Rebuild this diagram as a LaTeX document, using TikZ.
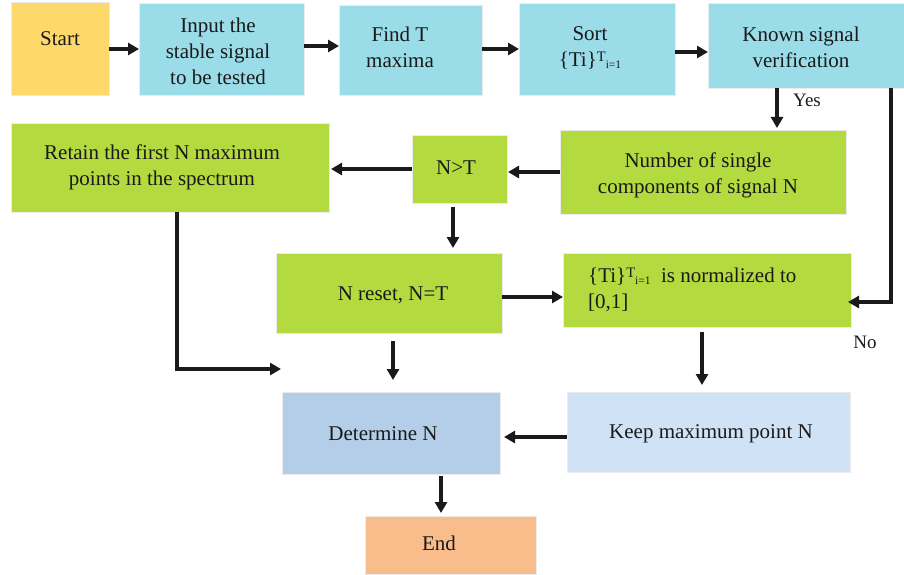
\documentclass[tikz,border=0pt]{standalone}
\usepackage{fontspec}
\setmainfont{Liberation Serif}
\usetikzlibrary{arrows.meta}
\definecolor{cyel}{HTML}{FDD96B}
\definecolor{cblue}{HTML}{9ADCE8}
\definecolor{cgreen}{HTML}{B3DA3F}
\definecolor{cdet}{HTML}{B4CEEA}
\definecolor{ckeep}{HTML}{D0E2F5}
\definecolor{cend}{HTML}{F9BC8B}
\definecolor{cline}{HTML}{1A1A1A}
\newcommand{\TiSet}{\{Ti\}\raisebox{5pt}{\fontsize{14.5}{14.5}\selectfont T}\raisebox{-2pt}{\fontsize{11.5}{11.5}\selectfont i=1}}
\begin{document}
\begin{tikzpicture}[x=1pt,y=-1pt,
  box/.style={draw=white!92!black,line width=0.6pt,inner sep=0pt,outer sep=0pt},
  txt/.style={font=\fontsize{21}{26}\selectfont,align=center,inner sep=0pt,text=cline},
  arr/.style={draw=cline,line width=3.2pt,-{Triangle[length=11pt,width=12pt]}}]
\useasboundingbox (0,0) rectangle (904,575);
% boxes
\node[box,fill=cyel,minimum width=98pt,minimum height=93pt] (start) at (60,48.5) {};
\node[box,fill=cblue,minimum width=165pt,minimum height=92pt] (input) at (221.5,49) {};
\node[box,fill=cblue,minimum width=143pt,minimum height=90pt] (find) at (410.5,50) {};
\node[box,fill=cblue,minimum width=156pt,minimum height=92pt] (sort) at (597,49) {};
\node[box,fill=cblue,minimum width=196pt,minimum height=85pt] (known) at (806,45.5) {};
\node[box,fill=cgreen,minimum width=318pt,minimum height=89pt] (retain) at (170,167.5) {};
\node[box,fill=cgreen,minimum width=95pt,minimum height=68pt] (nt) at (459.5,169) {};
\node[box,fill=cgreen,minimum width=286pt,minimum height=84pt] (number) at (703,172) {};
\node[box,fill=cgreen,minimum width=226pt,minimum height=80pt] (nreset) at (389,293) {};
\node[box,fill=cgreen,minimum width=288pt,minimum height=74pt] (norm) at (707,290) {};
\node[box,fill=cdet,minimum width=218pt,minimum height=82pt] (det) at (391,433) {};
\node[box,fill=ckeep,minimum width=283pt,minimum height=80pt] (keep) at (708.5,432) {};
\node[box,fill=cend,minimum width=171pt,minimum height=58pt] (end) at (450.5,545) {};
% texts
\node[txt] (tstart) at (60,39) {Start};
\node[txt] (tinput) at (218,51) {Input the\\stable signal\\to be tested};
\node[txt] (tfind) at (400,47) {Find T\\maxima};
\node[txt] (tsort) at (590,48) {Sort\\\TiSet};
\node[txt] (tknown) at (801,47) {Known signal\\verification};
\node[txt] (tretain) at (162,167) {Retain the first N maximum\\points in the spectrum};
\node[txt] (tnt) at (456,168) {N>T};
\node[txt] (tnumber) at (698,175) {Number of single\\components of signal N};
\node[txt] (tnreset) at (393,295) {N reset, N=T};
\node[txt,align=left,anchor=north west] (tnorm) at (588,268) {\TiSet\ \ is normalized to\\{}[0,1]};
\node[txt] (tdet) at (383,434) {Determine N};
\node[txt] (tkeep) at (711,434) {Keep maximum point N};
\node[txt] (tend) at (439,543) {End};
\node[txt,font=\fontsize{19}{22}\selectfont] (yes) at (807,100) {Yes};
\node[txt,font=\fontsize{19}{22}\selectfont] (no) at (865,342) {No};
% helper coordinates
\coordinate (yesx) at (777,0);
\coordinate (rightx) at (891,302);
\coordinate (retx) at (177,0);
\coordinate (retend) at (281,369);
\coordinate (ntx) at (453,0);
\coordinate (nrx) at (393,0);
\coordinate (nrend) at (393,380);
\coordinate (normx) at (702,0);
\coordinate (detx) at (441,0);
% connectors
\draw[arr] ([yshift=-0.5pt]start.east) -- ([yshift=-0.5pt]start.east -| input.west);
\draw[arr] ([yshift=3pt]input.east) -- ([yshift=3pt]input.east -| find.west);
\draw[arr] ([yshift=1pt]find.east) -- ([yshift=1pt]find.east -| sort.west);
\draw[arr] ([yshift=-3pt]sort.east) -- ([yshift=-3pt]sort.east -| known.west);
\draw[arr] (known.south -| yesx) -- ([yshift=2pt]number.north -| yesx);
\draw[arr] (known.south -| rightx) |- ([xshift=-3pt]norm.east |- rightx);
\draw[arr] (number.west |- 0,172) -- ([xshift=1pt]nt.east |- 0,172);
\draw[arr] (nt.west |- 0,169) -- ([xshift=2pt]retain.east |- 0,169);
\draw[arr] ([yshift=-4pt]nt.south -| ntx) -- ([yshift=5pt]nreset.north -| ntx);
\draw[arr] (retain.south -| retx) |- (retend);
\draw[arr] (nreset.east |- 0,297) -- (norm.west |- 0,297);
\draw[arr] ([yshift=-8pt]nreset.south -| nrx) -- (nrend);
\draw[arr] ([yshift=-5pt]norm.south -| normx) -- ([yshift=7pt]keep.north -| normx);
\draw[arr] (keep.west |- 0,437) -- ([xshift=4pt]det.east |- 0,437);
\draw[arr] ([yshift=-2pt]det.south -| detx) -- ([yshift=3pt]end.north -| detx);
\end{tikzpicture}
\end{document}
